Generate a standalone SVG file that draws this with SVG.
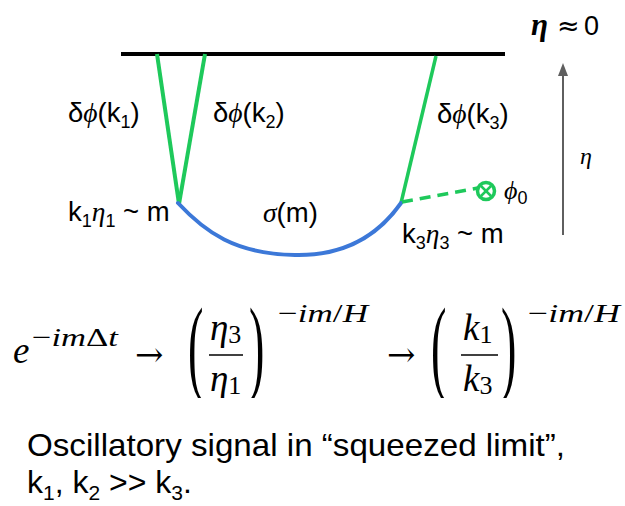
<svg xmlns="http://www.w3.org/2000/svg" width="625" height="506" viewBox="0 0 625 506">
<style>
.sans{font-family:"Liberation Sans",Arial,sans-serif;fill:#000}
.lbl{font-size:27.5px}
.gk{font-family:"Liberation Serif","DejaVu Serif",serif;font-style:italic}
.math{font-family:"Liberation Serif","DejaVu Serif",serif;fill:#000}
.mi{font-style:italic}
.arr{font-family:"DejaVu Serif",serif;font-size:34px;fill:#000}
.green{stroke:#1ec95b;fill:none;stroke-linecap:butt}
.blue{stroke:#3c78d8;fill:none;stroke-width:4;stroke-linecap:round}
</style>
<defs>
<clipPath id="eqclip"><rect x="0" y="290" width="625" height="108"/></clipPath>
</defs>
<rect width="625" height="506" fill="#fff"/>

<g id="connectors">
<line x1="121" y1="54" x2="505" y2="54" stroke="#000" stroke-width="4"/>
<line class="green" x1="157" y1="54" x2="179" y2="204" stroke-width="4"/>
<line class="green" x1="205" y1="54" x2="179" y2="204" stroke-width="4"/>
<line class="green" x1="436" y1="56" x2="401" y2="203" stroke-width="3.5"/>
<path class="blue" d="M178,203 C205,232 235,254 295,255 C340,256 375,240 401,203"/>
<line class="green" x1="402" y1="202" x2="478" y2="188" stroke-width="3.5" stroke-dasharray="11 7"/>
<line x1="563" y1="235" x2="563" y2="74" stroke="#5f5f5f" stroke-width="2"/>
<polygon points="563,63 558,76 568,76" fill="#5f5f5f"/>
</g>

<g id="phi0-vertex">
<circle cx="486" cy="191" r="8.5" fill="#fff" stroke="#1ec95b" stroke-width="3.5"/>
<line class="green" x1="481" y1="186" x2="491" y2="196" stroke-width="2.5"/>
<line class="green" x1="491" y1="186" x2="481" y2="196" stroke-width="2.5"/>
<text class="math" x="504" y="199" font-size="26"><tspan class="mi">ϕ</tspan><tspan style="font-family:'Liberation Sans',Arial,sans-serif" font-size="18" dy="5">0</tspan></text>
</g>

<g id="labels">
<text class="sans lbl" x="68" y="122">δ<tspan class="gk">ϕ</tspan>(k<tspan font-size="18" dy="6">1</tspan><tspan dy="-6">)</tspan></text>
<text class="sans lbl" x="213" y="122">δ<tspan class="gk">ϕ</tspan>(k<tspan font-size="18" dy="6">2</tspan><tspan dy="-6">)</tspan></text>
<text class="sans lbl" x="437" y="123">δ<tspan class="gk">ϕ</tspan>(k<tspan font-size="18" dy="6">3</tspan><tspan dy="-6">)</tspan></text>
<text class="sans lbl" x="68" y="221">k<tspan font-size="18" dy="6">1</tspan><tspan class="gk" dy="-6">η</tspan><tspan font-size="18" dy="6">1</tspan><tspan dy="-6"> ~ m</tspan></text>
<text class="sans lbl" x="263" y="222"><tspan class="gk">σ</tspan>(m)</text>
<text class="sans lbl" x="402" y="243">k<tspan font-size="18" dy="6">3</tspan><tspan class="gk" dy="-6">η</tspan><tspan font-size="18" dy="6">3</tspan><tspan dy="-6"> ~ m</tspan></text>
<text class="math" x="531" y="35" font-size="31" font-weight="bold" font-style="italic">η</text>
<text x="557" y="35" font-size="27" style="font-family:'DejaVu Sans',sans-serif">≈</text>
<text class="sans" x="584" y="35" font-size="27">0</text>
<text class="math mi" x="580" y="164" font-size="24">η</text>
</g>

<g id="equation" clip-path="url(#eqclip)">
<text class="math mi" x="13" y="363" font-size="37">e</text>
<text class="math" x="32" y="346" font-size="26" textLength="86" lengthAdjust="spacingAndGlyphs">−<tspan class="mi">im</tspan>Δ<tspan class="mi">t</tspan></text>
<text class="arr" x="135" y="366">→</text>
<text class="math" transform="translate(188,381) scale(0.44,1)" font-size="105">(</text>
<text class="math" x="210" y="340" font-size="37"><tspan class="mi">η</tspan><tspan font-size="26" dy="3">3</tspan></text>
<line x1="209" y1="355" x2="243" y2="355" stroke="#000" stroke-width="1.6"/>
<text class="math" x="210" y="391" font-size="37"><tspan class="mi">η</tspan><tspan font-size="26" dy="3">1</tspan></text>
<text class="math" transform="translate(249,381) scale(0.44,1)" font-size="105">)</text>
<text class="math" x="278" y="322" font-size="26" textLength="90" lengthAdjust="spacingAndGlyphs">−<tspan class="mi">im</tspan>/<tspan class="mi">H</tspan></text>
<text class="arr" x="387" y="366">→</text>
<text class="math" transform="translate(431,381) scale(0.44,1)" font-size="105">(</text>
<text class="math" x="463" y="340" font-size="37"><tspan class="mi">k</tspan><tspan font-size="26" dy="3">1</tspan></text>
<line x1="461" y1="355" x2="498" y2="355" stroke="#000" stroke-width="1.6"/>
<text class="math" x="463" y="391" font-size="37"><tspan class="mi">k</tspan><tspan font-size="26" dy="3">3</tspan></text>
<text class="math" transform="translate(501,381) scale(0.44,1)" font-size="105">)</text>
<text class="math" x="528" y="322" font-size="26" textLength="92" lengthAdjust="spacingAndGlyphs">−<tspan class="mi">im</tspan>/<tspan class="mi">H</tspan></text>
</g>

<g id="caption">
<text class="sans" x="27" y="456" font-size="32" textLength="538" lengthAdjust="spacingAndGlyphs">Oscillatory signal in “squeezed limit”,</text>
<text class="sans" x="27" y="493" font-size="32">k<tspan font-size="21" dy="7">1</tspan><tspan dy="-7">, k</tspan><tspan font-size="21" dy="7">2</tspan><tspan dy="-7"> &gt;&gt; k</tspan><tspan font-size="21" dy="7">3</tspan><tspan dy="-7">.</tspan></text>
</g>
</svg>
